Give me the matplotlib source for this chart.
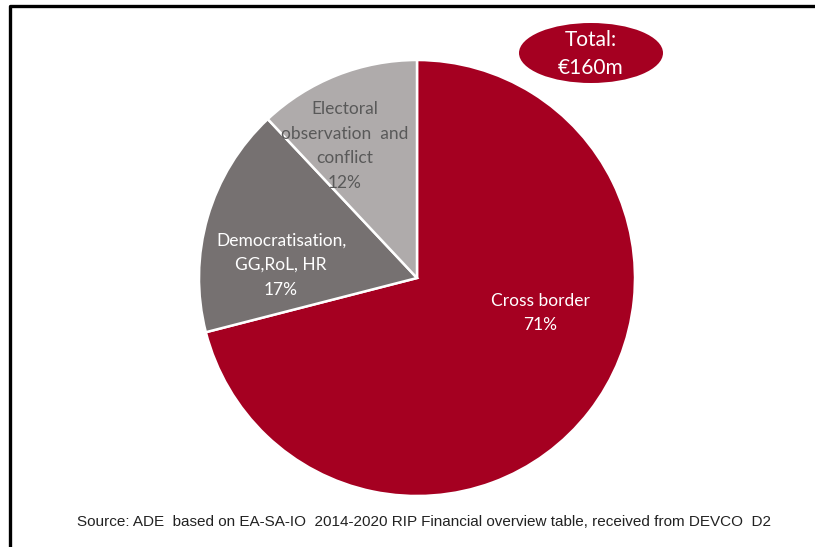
import matplotlib.pyplot as plt
from matplotlib.patches import Ellipse
from matplotlib import font_manager

# Share of the 2014-2020 RIP envelope by sector
sectors = ['Cross border', 'Democratisation,\nGG,RoL, HR', 'Electoral\nobservation  and\nconflict']
shares = [71, 17, 12]
total_label = 'Total:\n€160m'
source = 'Source: ADE  based on EA-SA-IO  2014-2020 RIP Financial overview table, received from DEVCO  D2'

colors = ['#A50021', '#767171', '#AFABAB']
text_colors = ['white', 'white', '#595959']

W, H = 815, 547
fig = plt.figure(figsize=(W / 100, H / 100), dpi=100)
ax = fig.add_axes([0, 0, 1, 1])

label_font = 'Lato'
names = {f.name for f in font_manager.fontManager.ttflist}
source_font = 'Liberation Sans Narrow' if 'Liberation Sans Narrow' in names else 'Liberation Sans'

cx, cy, r = 417, H - 278, 218
ax.pie(shares, colors=colors, startangle=90, counterclock=False,
       center=(cx, cy), radius=r, frame=True,
       wedgeprops=dict(edgecolor='white', linewidth=1.8))
ax.set_xlim(0, W)
ax.set_ylim(0, H)
ax.set_aspect('equal')
ax.axis('off')

# outer frame
ax.plot([10, 10, W + 5], [-5, H - 6, H - 6], color='black', lw=2.4, solid_capstyle='butt')

label_pos = [(540, 313), (281, 265), (345, 146)]
for name, pct, (x, y), tc in zip(sectors, shares, label_pos, text_colors):
    ax.text(x, H - y, f'{name}\n{pct}%', ha='center', va='center', color=tc,
            fontsize=12.5, family=label_font, linespacing=1.67)

ax.add_patch(Ellipse((591, H - 53), 144, 60, facecolor='#A50021', edgecolor='none'))
ax.text(591, H - 54, total_label, ha='center', va='center', color='white',
        fontsize=15, family=label_font, linespacing=1.5)

ax.text(424, H - 522, source, ha='center', va='center', color='#222222',
        fontsize=11, family=source_font)

fig.savefig('out.png', dpi=100, facecolor='white')
